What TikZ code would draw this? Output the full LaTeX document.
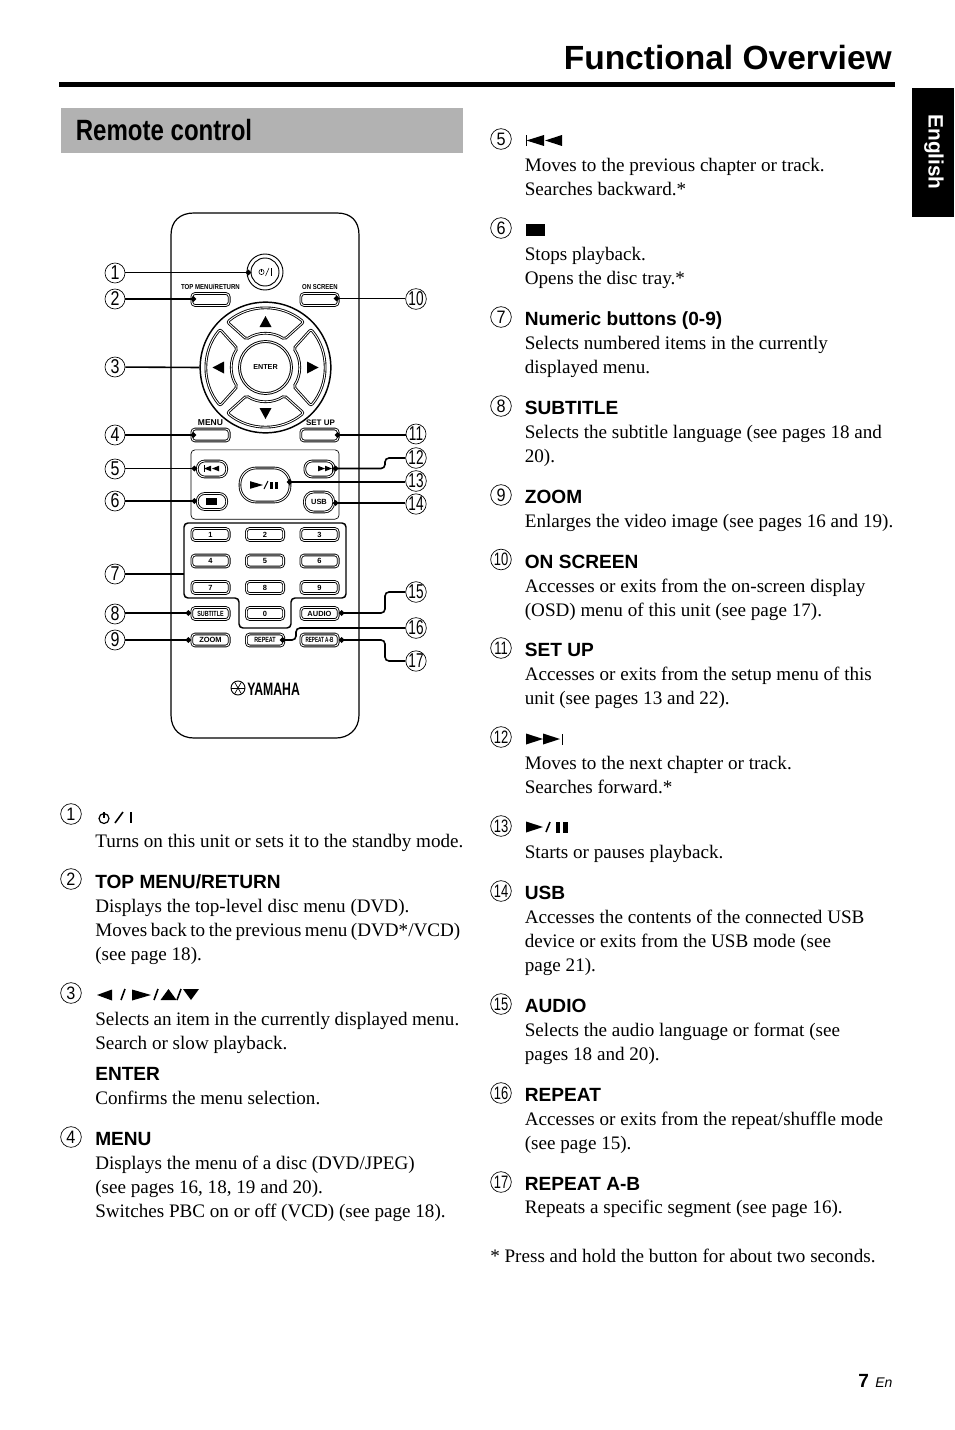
\documentclass[tikz,border=0pt]{standalone}
\usepackage{fontspec}
\usetikzlibrary{arrows.meta}
\setmainfont{Liberation Serif}
\setsansfont{Liberation Sans}
\newcounter{tln}
\newcommand{\tl}[3]{\stepcounter{tln}\node[bodytxt] (t\thetln) at (#1,#2) {#3};}
\newcommand{\hd}[3]{\stepcounter{tln}\node[headtxt] (t\thetln) at (#1,#2) {#3};}
\newcommand{\hrtri}[4]{\fill (#1,#3) -- (#2,#3-#4) -- (#2,#3+#4) -- cycle;}
\newcommand{\vrtri}[4]{\fill (#1,#2) -- (#1-#4,#3) -- (#1+#4,#3) -- cycle;}
\newcommand{\cn}[4]{\node[circno] (#1) at (#2,#3) {\scalebox{.8}[1]{#4}};}
\newcommand{\cnn}[4]{\node[circno] (#1) at (#2,#3) {\scalebox{.68}[1]{#4}};}
\newcommand{\tn}[4]{\node[txtno] (#1) at (#2,#3) {\scalebox{.9}[1]{#4}};}
\newcommand{\tnn}[4]{\node[txtno] (#1) at (#2,#3) {\scalebox{.72}[1]{#4}};}
\newcommand{\lab}[1]{\scalebox{.72}[1]{#1}}
\begin{document}
\begin{tikzpicture}[x=.75pt,y=-.75pt,
  bodytxt/.style={anchor=base west,inner sep=0pt,font=\fontsize{14.33}{18}\selectfont\rmfamily},
  headtxt/.style={anchor=base west,inner sep=0pt,font=\fontsize{14.33}{18}\selectfont\sffamily\bfseries},
  circno/.style={circle,draw,line width=.5pt,minimum size=15pt,inner sep=0pt,font=\fontsize{15}{15}\selectfont\sffamily},
  txtno/.style={circle,draw,line width=.5pt,minimum size=15.5pt,inner sep=0pt,font=\fontsize{13.5}{14}\selectfont\sffamily},
  btn/.style={rectangle,draw,double,line width=.65pt,double distance=.7pt,rounded corners=2.5pt,minimum width=28pt,minimum height=9pt,inner sep=0pt,font=\fontsize{5.6}{6}\selectfont\sffamily\bfseries},
  pill/.style={btn,minimum width=22pt,minimum height=12pt,rounded corners=5.5pt},
  small/.style={inner sep=0pt,font=\fontsize{5.4}{6}\selectfont\sffamily\bfseries},
  lead/.style={line width=1.2pt},
  leaddot/.style={line width=1.2pt,-{Circle[length=4pt,width=4pt]},rounded corners=3pt}]
\useasboundingbox (0,0) rectangle (954,1430);
\fill[white] (0,0) rectangle (954,1430);
% header
\node[anchor=base east,inner sep=0pt,font=\fontsize{25.15}{30}\selectfont\sffamily\bfseries] (title) at (892,70) {Functional Overview};
\fill (59,82) rectangle (895,87);
\fill[black!30] (61,108) rectangle (463,153);
\node[anchor=base west,inner sep=0pt,font=\fontsize{22}{26}\selectfont\sffamily\bfseries] (sect) at (75.5,140.5) {\scalebox{.82}[1]{Remote control}};
\fill (912,88) rectangle (954,217);
\node[rotate=-90,inner sep=0pt,text=white,font=\fontsize{15.6}{18}\selectfont\sffamily\bfseries] (eng) at (934,152) {English};
% remote body
\draw[line width=.9pt] (171,235) .. controls (171,221) and (180,213) .. (194,213) -- (337,213) .. controls (351,213) and (359,221) .. (359,235) -- (359,715) .. controls (359,730) and (348,738) .. (336,738) -- (194,738) .. controls (181,738) and (171,730) .. (171,715) -- cycle;
% power
\node[circle,draw,line width=.7pt,minimum size=27pt,inner sep=0pt] (pow) at (265,272) {};
\node[circle,draw,line width=.7pt,minimum size=21pt,inner sep=0pt] (powi) at (265,272) {};
\draw[line width=.4pt] (261.5,272) circle[radius=2.6];
\draw[line width=.4pt] (261.5,268.5) -- (261.5,272);
\draw[line width=.4pt] (265.5,276) -- (269,268);
\draw[line width=.5pt] (271.5,268) -- (271.5,276);
% top buttons
\node[small] (ltop) at (210.5,287) {\scalebox{.84}[1]{TOP MENU/RETURN}};
\node[small] (lon) at (320,287) {\scalebox{.83}[1]{ON SCREEN}};
\node[btn] (btop) at (210.5,299.5) {};
\node[btn] (bon) at (319.5,299.5) {};
% dpad
\node[circle,draw,line width=1.1pt,minimum size=98pt,inner sep=0pt] (dpad) at (265.5,367.5) {};
\foreach \a in {0,90,180,270}{
  \begin{scope}[shift={(265.5,367.5)},rotate=\a]
    \draw[double,line width=.65pt,double distance=.7pt,rounded corners=1.5pt] (50:44.5pt) arc[start angle=50,end angle=130,radius=44.5pt] -- (124:25.5pt) arc[start angle=124,end angle=56,radius=25.5pt] -- cycle;
  \end{scope}
}
\node[circle,draw,double,line width=.7pt,double distance=.7pt,minimum size=39pt,inner sep=0pt,font=\fontsize{5.4}{6}\selectfont\sffamily\bfseries] (enter) at (265.5,367.5) {ENTER};
\vrtri{265.5}{316}{327}{6}
\vrtri{265.5}{419}{408}{6}
\hrtri{212.5}{224}{367.5}{6}
\hrtri{318.5}{307}{367.5}{6}
% menu
\node[small,font=\fontsize{6.4}{7}\selectfont\sffamily\bfseries] (lmenu) at (210.5,423) {MENU};
\node[small,font=\fontsize{6}{7}\selectfont\sffamily\bfseries] (lset) at (320.5,423) {SET UP};
\node[btn] (bmenu) at (210.5,435) {};
\node[btn] (bset) at (319.5,435) {};
% transport
\node[rectangle,draw,line width=.5pt,rounded corners=3pt,minimum width=111pt,minimum height=52pt,inner sep=0pt] (tbox) at (265,484.5) {};
\node[pill] (bprev) at (212,469) {};
\node[pill] (bnext) at (319.5,469) {};
\node[pill] (bstop) at (212,501.5) {};
\node[pill,minimum height=15pt,rounded corners=7pt] (busb) at (319,502) {USB};
\node[pill,minimum width=37.5pt,minimum height=25.5pt,rounded corners=12pt] (bplay) at (265,485) {};
\fill (203.5,465) rectangle (204.2,472);
\hrtri{204}{211}{468.5}{2.8}
\hrtri{212}{219}{468.5}{2.8}
\hrtri{325}{318}{468.5}{2.8}
\hrtri{332}{325}{468.5}{2.8}
\fill (331.5,465) rectangle (332.2,472);
\fill (206,497.5) rectangle (217,505);
\hrtri{263}{250}{485}{3.8}
\draw[line width=.7pt] (264,489) -- (268,481);
\fill (270,481.5) rectangle (273,488.5);
\fill (274.5,481.5) rectangle (277.5,488.5);
% numeric
\draw[line width=1.1pt,rounded corners=3pt] (184,523) -- (346,523) -- (346,598) -- (291,598) -- (291,628) -- (239,628) -- (239,598) -- (184,598) -- cycle;
\node[btn] (b1) at (210.5,534.5) {1};
\node[btn] (b2) at (265,534.5) {2};
\node[btn] (b3) at (319.5,534.5) {3};
\node[btn] (b4) at (210.5,561) {4};
\node[btn] (b5) at (265,561) {5};
\node[btn] (b6) at (319.5,561) {6};
\node[btn] (b7) at (210.5,587.5) {7};
\node[btn] (b8) at (265,587.5) {8};
\node[btn] (b9) at (319.5,587.5) {9};
\node[btn] (b0) at (265,613.5) {0};
\node[btn] (bsub) at (210.5,613.5) {\lab{SUBTITLE}};
\node[btn] (baud) at (319.5,613.5) {AUDIO};
\node[btn] (bzoom) at (210.5,640) {ZOOM};
\node[btn] (brep) at (265,640) {\lab{REPEAT}};
\node[btn] (brab) at (319.5,640) {\scalebox{.62}[1]{REPEAT A-B}};
% logo
\node[circle,draw,line width=.7pt,minimum size=10.5pt,inner sep=0pt] (emb) at (238,688) {};
\foreach \a in {0,60,120}{\draw[line width=.5pt,shift={(238,688)}] (\a:5pt) -- (\a+180:5pt);}
\node[anchor=base west,inner sep=0pt,font=\fontsize{13.5}{14}\selectfont\sffamily\bfseries] (yam) at (247,695) {\scalebox{.68}[1]{YAMAHA}};
% callouts
\cn{n1}{115}{273}{1}
\cn{n2}{115}{299}{2}
\cn{n3}{115}{367}{3}
\cn{n4}{115}{435}{4}
\cn{n5}{115}{469}{5}
\cn{n6}{115}{501}{6}
\cn{n7}{115}{574}{7}
\cn{n8}{115}{614}{8}
\cn{n9}{115}{640}{9}
\cnn{n10}{416}{299}{10}
\cnn{n11}{416}{434}{11}
\cnn{n12}{416}{458}{12}
\cnn{n13}{416}{481}{13}
\cnn{n14}{416}{504}{14}
\cnn{n15}{416}{592}{15}
\cnn{n16}{416}{628}{16}
\cnn{n17}{416}{661}{17}
\coordinate (d1) at (251,272.5);
\coordinate (d2) at (196,299);
\coordinate (d4) at (196,435);
\coordinate (d5) at (197,468.5);
\coordinate (d6) at (197,501);
\coordinate (d7) at (184,574);
\coordinate (d8) at (191,613);
\coordinate (d9) at (191,640);
\coordinate (d10) at (334,298.5);
\coordinate (d11) at (335,435);
\coordinate (d12) at (333,468.5);
\coordinate (d13) at (287,482);
\coordinate (d14) at (333,503);
\coordinate (d15) at (339,613);
\coordinate (d16) at (280,640);
\coordinate (d17) at (339,640);
\draw[leaddot] (n1.east |- d1) -- (d1);
\draw[leaddot] (n2) -- (d2);
\draw[lead] (n3) -- (dpad.west);
\draw[leaddot] (n4) -- (d4);
\draw[leaddot] (n5.east |- d5) -- (d5);
\draw[leaddot] (n6) -- (d6);
\draw[lead] (n7) -- (d7);
\draw[leaddot] (n8.east |- d8) -- (d8);
\draw[leaddot] (n9) -- (d9);
\draw[leaddot] (n10.west |- d10) -- (d10);
\draw[leaddot] (n11.west |- d11) -- (d11);
\draw[leaddot] (n12) -- (385,458) -- (385,468.5) -- (d12);
\draw[leaddot] (n13.west |- d13) -- (d13);
\draw[leaddot] (n14.west |- d14) -- (d14);
\draw[leaddot] (n15) -- (385,592) -- (385,613) -- (d15);
\draw[leaddot] (n16) -- (296,628) -- (296,640) -- (d16);
\draw[leaddot] (n17) -- (385,661) -- (385,640) -- (d17);
% left column
\tn{c1}{71}{814}{1}
\draw[line width=.9pt] (104,818.5) circle[radius=5];
\draw[line width=.9pt] (104,812) -- (104,818);
\draw[line width=1.2pt] (115,823) -- (123,812);
\draw[line width=1.3pt] (131,812) -- (131,823);
\tl{95}{847}{Turns on this unit or sets it to the standby mode.}
\tn{c2}{71}{879}{2}
\hd{95}{888}{TOP MENU/RETURN}
\tl{95}{912}{Displays the top-level disc menu (DVD).}
\tl{95}{936}{\makebox[273.75pt][s]{Moves back to the previous menu (DVD*/VCD)}}
\tl{95}{960}{(see page 18).}
\tn{c3}{71}{993}{3}
\hrtri{97}{112}{995}{5.5}
\draw[line width=1.2pt] (121,1000) -- (125,989);
\hrtri{151}{132}{995}{5.5}
\draw[line width=1.2pt] (154,1000) -- (158,989);
\vrtri{168.5}{989}{1000}{8}
\draw[line width=1.2pt] (177,1000) -- (181,989);
\vrtri{191}{1000}{989}{8}
\tl{95}{1025}{\makebox[273pt][s]{Selects an item in the currently displayed menu.}}
\tl{95}{1049}{Search or slow playback.}
\hd{95}{1080}{ENTER}
\tl{95}{1104}{Confirms the menu selection.}
\tn{c4}{71}{1137}{4}
\hd{95}{1145.5}{MENU}
\tl{95}{1169}{Displays the menu of a disc (DVD/JPEG)}
\tl{95}{1193}{(see pages 16, 18, 19 and 20).}
\tl{95}{1217}{Switches PBC on or off (VCD) (see page 18).}
% right column
\tn{c5}{501}{139}{5}
\fill (525.5,135) rectangle (526.7,146);
\hrtri{526.5}{544}{140.5}{5.5}
\hrtri{545}{562}{140.5}{5.5}
\tl{524.6}{172}{Moves to the previous chapter or track.}
\tl{524.6}{196}{Searches backward.*}
\tn{c6}{501}{228}{6}
\fill (526,224) rectangle (544.5,236);
\tl{524.6}{260}{Stops playback.}
\tl{524.6}{284}{Opens the disc tray.*}
\tn{c7}{501}{317}{7}
\hd{524.6}{325}{Numeric buttons (0-9)}
\tl{524.6}{349}{Selects numbered items in the currently}
\tl{524.6}{373}{displayed menu.}
\tn{c8}{501}{406}{8}
\hd{524.6}{414}{SUBTITLE}
\tl{524.6}{438}{Selects the subtitle language (see pages 18 and}
\tl{524.6}{462}{20).}
\tn{c9}{501}{495}{9}
\hd{524.6}{503}{ZOOM}
\tl{524.6}{527}{Enlarges the video image (see pages 16 and 19).}
\tnn{c10}{501}{559.5}{10}
\hd{524.6}{568}{ON SCREEN}
\tl{524.6}{592}{Accesses or exits from the on-screen display}
\tl{524.6}{616}{(OSD) menu of this unit (see page 17).}
\tnn{c11}{501}{648}{11}
\hd{524.6}{656}{SET UP}
\tl{524.6}{680}{Accesses or exits from the setup menu of this}
\tl{524.6}{704}{unit (see pages 13 and 22).}
\tnn{c12}{501}{737}{12}
\hrtri{543}{526}{739}{5.5}
\hrtri{560}{543}{739}{5.5}
\fill (561.5,733.5) rectangle (562.7,744.5);
\tl{524.6}{769}{Moves to the next chapter or track.}
\tl{524.6}{793}{Searches forward.*}
\tnn{c13}{501}{826}{13}
\hrtri{543}{526}{827}{5.5}
\draw[line width=1.2pt] (546,832) -- (550,822);
\fill (556,822) rectangle (560,832.5);
\fill (563,822) rectangle (567.5,832.5);
\tl{524.6}{858}{Starts or pauses playback.}
\tnn{c14}{501}{891}{14}
\hd{524.6}{899}{USB}
\tl{524.6}{923}{Accesses the contents of the connected USB}
\tl{524.6}{947}{device or exits from the USB mode (see}
\tl{524.6}{971}{page 21).}
\tnn{c15}{501}{1004}{15}
\hd{524.6}{1012}{AUDIO}
\tl{524.6}{1036}{Selects the audio language or format (see}
\tl{524.6}{1060}{pages 18 and 20).}
\tnn{c16}{501}{1093}{16}
\hd{524.6}{1101}{REPEAT}
\tl{524.6}{1125}{Accesses or exits from the repeat/shuffle mode}
\tl{524.6}{1149}{(see page 15).}
\tnn{c17}{501}{1182}{17}
\hd{524.6}{1190}{REPEAT A-B}
\tl{524.6}{1213}{Repeats a specific segment (see page 16).}
\tl{490}{1262}{* Press and hold the button for about two seconds.}
% page number
\node[anchor=base west,inner sep=0pt,font=\fontsize{14.3}{16}\selectfont\sffamily\bfseries] (pg) at (858,1387) {7};
\node[anchor=base west,inner sep=0pt,font=\fontsize{10.5}{12}\selectfont\sffamily\itshape] (en) at (875,1387) {En};
\end{tikzpicture}
\end{document}
